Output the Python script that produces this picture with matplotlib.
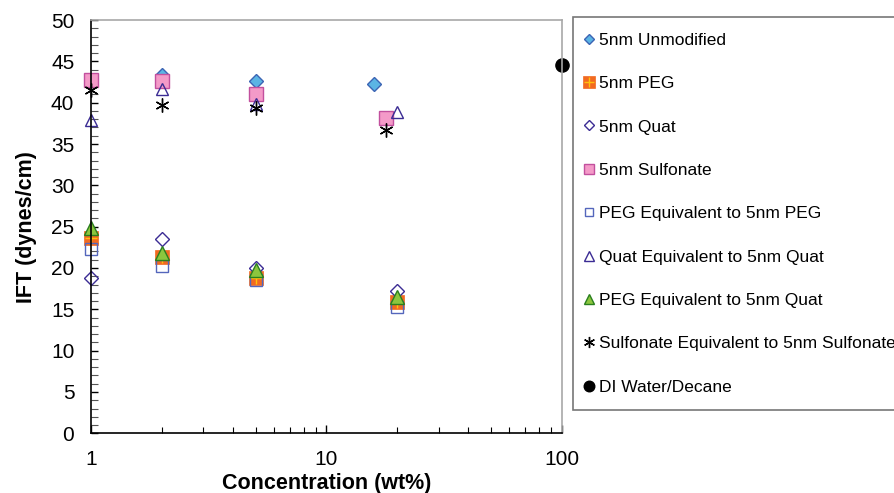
import matplotlib
matplotlib.use("Agg")
import matplotlib.pyplot as plt
from matplotlib.ticker import MultipleLocator, FixedLocator, NullFormatter
from matplotlib.legend_handler import HandlerTuple

plt.rcParams['font.family'] = ['Liberation Sans', 'DejaVu Sans']

# IFT measurements (dynes/cm) vs. nanoparticle concentration (wt%)
conc_unmod = [2, 5, 16]
ift_unmod = [43.4, 42.6, 42.3]

conc_peg = [1, 2, 5, 20]
ift_peg = [23.6, 21.3, 18.8, 15.9]

conc_quat = [1, 2, 5, 20]
ift_quat = [18.8, 23.5, 20.0, 17.2]

conc_sulf = [1, 2, 5, 18]
ift_sulf = [42.7, 42.6, 41.0, 38.2]

conc_peg_eq = [1, 2, 5, 20]
ift_peg_eq = [22.3, 20.2, 18.6, 15.3]

conc_quat_eq = [1, 2, 5, 20]
ift_quat_eq = [37.9, 41.6, 39.8, 38.9]

conc_pegq_eq = [1, 2, 5, 20]
ift_pegq_eq = [24.8, 21.8, 19.7, 16.5]

conc_sulf_eq = [1, 2, 5, 18]
ift_sulf_eq = [41.5, 39.7, 39.4, 36.7]

conc_water = [100]
ift_water = [44.6]

labels = ['5nm Unmodified', '5nm PEG', '5nm Quat', '5nm Sulfonate',
          'PEG Equivalent to 5nm PEG', 'Quat Equivalent to 5nm Quat',
          'PEG Equivalent to 5nm Quat', 'Sulfonate Equivalent to 5nm Sulfonate',
          'DI Water/Decane']

fig = plt.figure(figsize=(8.94, 4.93), dpi=100)
ax = fig.add_axes([0.1018, 0.1211, 0.5265, 0.8383])

# markers sit on the axis edges at 1 and 100 wt%, so no clipping
kw = dict(ls='none', clip_on=False)

h = []
h.append(ax.plot(conc_unmod, ift_unmod, marker='D', ms=7, mfc='#5BB4E4', mec='#3C64B4', mew=1, **kw)[0])
sq = ax.plot(conc_peg, ift_peg, marker='s', ms=10.5, mfc='#F26A21', mec='#F26A21', mew=0.5, **kw)[0]
pl = ax.plot(conc_peg, ift_peg, marker='+', ms=9, mec='#FFC20E', mew=1, **kw)[0]
h.append((sq, pl))
h.append(ax.plot(conc_quat, ift_quat, marker='D', ms=7, mfc='none', mec='#3B2C94', mew=1, **kw)[0])
h.append(ax.plot(conc_sulf, ift_sulf, marker='s', ms=9.5, mfc='#F49AC8', mec='#C2509E', mew=1, **kw)[0])
h.append(ax.plot(conc_peg_eq, ift_peg_eq, marker='s', ms=8, mfc='none', mec='#5466BC', mew=1, **kw)[0])
h.append(ax.plot(conc_quat_eq, ift_quat_eq, marker='^', ms=9, mfc='none', mec='#3B2C94', mew=1, **kw)[0])
h.append(ax.plot(conc_pegq_eq, ift_pegq_eq, marker='^', ms=9.5, mfc='#8CC63E', mec='#2A7F1E', mew=1, **kw)[0])
h.append(ax.plot(conc_sulf_eq, ift_sulf_eq, marker=(6, 2, 0), ms=10, mec='black', mew=1, **kw)[0])
h.append(ax.plot(conc_water, ift_water, marker='o', ms=9.5, mfc='black', mec='black', **kw)[0])

ax.set_xscale('log')
ax.set_xlim(1, 100)
ax.set_ylim(0, 50)
ax.yaxis.set_major_locator(MultipleLocator(5))
ax.yaxis.set_minor_locator(MultipleLocator(1))
ax.xaxis.set_major_locator(FixedLocator([1, 10, 100]))
ax.set_xticklabels(['1', '10', '100'])
ax.xaxis.set_minor_formatter(NullFormatter())

ax.tick_params(axis='both', which='both', direction='in', labelsize=15)
ax.tick_params(axis='x', which='major', length=6, width=1, pad=12)
ax.tick_params(axis='x', which='minor', length=4, width=0.8)
ax.tick_params(axis='y', which='major', length=5, width=1, pad=12)
ax.tick_params(axis='y', which='minor', length=5, width=0.8, color='#555555')

for side in ['top', 'right']:
    ax.spines[side].set_color('#A8A8A8')
    ax.spines[side].set_linewidth(1.2)
for side in ['left', 'bottom']:
    ax.spines[side].set_linewidth(1.2)

ax.set_xlabel('Concentration (wt%)', fontsize=15.5, fontweight='bold', labelpad=3)
ax.set_ylabel('IFT (dynes/cm)', fontsize=15.5, fontweight='bold', labelpad=10)

leg = fig.legend(h, labels, loc='upper left', bbox_to_anchor=(0.641, 0.9655),
                 fontsize=12.5, frameon=True, fancybox=False, edgecolor='#555555',
                 handler_map={tuple: HandlerTuple(ndivide=1)},
                 handlelength=0, handletextpad=0.62, labelspacing=1.625,
                 borderpad=0.9, borderaxespad=0, numpoints=1, markerscale=0.8)
leg.get_frame().set_linewidth(1.2)

fig.savefig('out.png', dpi=100)
